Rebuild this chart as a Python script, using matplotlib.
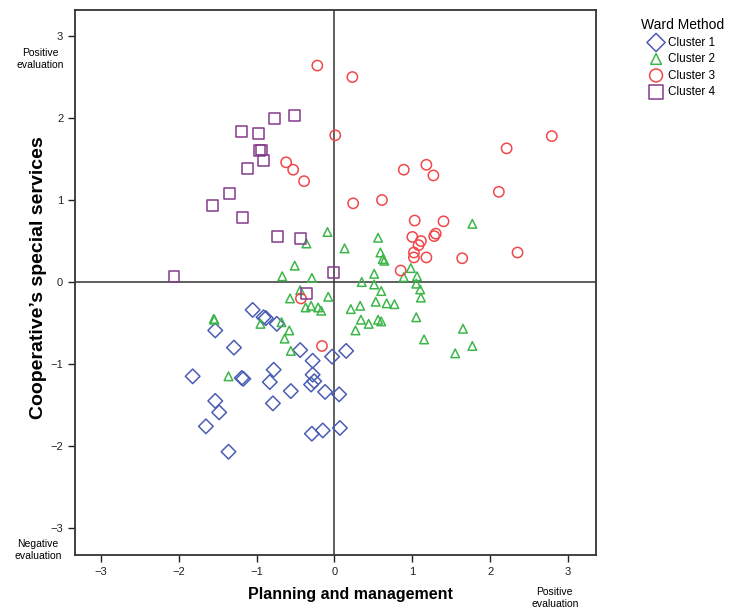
import matplotlib.pyplot as plt

plt.rcParams['font.family'] = ['Liberation Sans', 'DejaVu Sans']

# cluster scores: planning and management (x) vs cooperative's special services (y)
c1_x = [-1.05, -0.91, -0.88, -0.74, -1.53, -1.29, -0.44, -0.28, -0.03, 0.15, -1.82, -1.17, -1.19,
        -0.78, -0.83, -0.56, -0.28, -0.26, -0.30, -0.12, 0.06, -1.53, -0.79, -1.48, -1.65, -0.29,
        -0.15, 0.07, -1.36]
c1_y = [-0.34, -0.43, -0.44, -0.51, -0.59, -0.80, -0.83, -0.96, -0.91, -0.84, -1.15, -1.18, -1.17,
        -1.07, -1.22, -1.33, -1.13, -1.21, -1.25, -1.34, -1.37, -1.45, -1.48, -1.59, -1.76, -1.85,
        -1.81, -1.78, -2.07]

c2_x = [-0.09, -0.36, 0.13, 0.56, 0.59, 0.62, 0.64, -0.51, -0.67, -0.29, 0.51, 0.35, 0.51, 0.60,
        -0.44, -0.57, -0.08, -0.37, -0.30, -0.21, -0.17, 0.21, 0.33, 0.53, 0.67, 0.77, 0.34, 0.44,
        0.56, 0.60, 0.27, -1.54, -1.55, -0.95, -0.68, -0.58, -0.64, -0.56, -1.36, 1.77, 0.98, 0.89,
        1.06, 1.05, 1.10, 1.11, 1.05, 1.15, 1.65, 1.77, 1.55]
c2_y = [0.61, 0.47, 0.41, 0.54, 0.36, 0.28, 0.26, 0.20, 0.07, 0.05, 0.10, 0.00, -0.03, -0.11,
        -0.10, -0.20, -0.18, -0.31, -0.29, -0.31, -0.35, -0.33, -0.29, -0.24, -0.26, -0.27, -0.46,
        -0.51, -0.46, -0.48, -0.59, -0.46, -0.45, -0.51, -0.49, -0.59, -0.69, -0.84, -1.15, 0.71,
        0.17, 0.06, 0.07, -0.02, -0.09, -0.19, -0.43, -0.70, -0.57, -0.78, -0.87]

c3_x = [-0.22, 0.23, 0.01, 2.79, 2.21, 0.89, 1.18, 1.27, 2.11, 0.24, 0.61, 1.03, 1.40, 1.00, 1.11,
        1.08, 1.30, 1.28, 1.02, 1.02, 1.18, 1.64, 2.35, 0.85, -0.62, -0.53, -0.39, -0.43, -0.16]
c3_y = [2.64, 2.50, 1.79, 1.78, 1.63, 1.37, 1.43, 1.30, 1.10, 0.96, 1.00, 0.75, 0.74, 0.55, 0.50,
        0.45, 0.59, 0.56, 0.36, 0.30, 0.30, 0.29, 0.36, 0.14, 1.46, 1.37, 1.23, -0.20, -0.78]

c4_x = [-1.19, -0.98, -0.77, -0.51, -0.94, -0.96, -0.91, -1.12, -1.35, -1.56, -1.18, -0.73, -0.44,
        -0.01, -2.06, -0.36]
c4_y = [1.84, 1.81, 2.00, 2.03, 1.61, 1.60, 1.48, 1.38, 1.08, 0.93, 0.79, 0.55, 0.53, 0.12, 0.07,
        -0.14]

clusters = ['Cluster 1', 'Cluster 2', 'Cluster 3', 'Cluster 4']
ticks = [-3, -2, -1, 0, 1, 2, 3]
tick_labels = ['\u22123', '\u22122', '\u22121', '0', '1', '2', '3']

fig = plt.figure(figsize=(7.32, 6.14), dpi=100)
ax = fig.add_axes([0.1025, 0.096, 0.712, 0.888])

ax.axhline(0, color='#333333', lw=1.1, zorder=1)
ax.axvline(0, color='#333333', lw=1.1, zorder=1)

ax.scatter(c1_x, c1_y, marker='D', s=55, facecolors='none', edgecolors='#4b5db3', linewidths=1.1,
           label=clusters[0], zorder=3)
ax.scatter(c2_x, c2_y, marker='^', s=38, facecolors='none', edgecolors='#3cb64a', linewidths=1.1,
           label=clusters[1], zorder=3)
ax.scatter(c3_x, c3_y, marker='o', s=55, facecolors='none', edgecolors='#f0484b', linewidths=1.1,
           label=clusters[2], zorder=3)
ax.scatter(c4_x, c4_y, marker='s', s=62, facecolors='none', edgecolors='#853b8c', linewidths=1.1,
           label=clusters[3], zorder=3)

ax.set_xlim(-3.33, 3.36)
ax.set_ylim(-3.33, 3.32)
ax.set_xticks(ticks)
ax.set_yticks(ticks)
ax.set_xticklabels(tick_labels)
ax.set_yticklabels(tick_labels)
ax.tick_params(direction='out', length=5, width=1, labelsize=8, colors='#222222')
for sp in ax.spines.values():
    sp.set_color('#333333')
    sp.set_linewidth(1.3)

ax.set_xlabel('Planning and management', fontsize=11.5, fontweight='bold')
ax.set_ylabel('Cooperative\u2019s special services', fontsize=14, fontweight='bold')
ax.xaxis.set_label_coords(0.528, -0.058)
ax.yaxis.set_label_coords(-0.054, 0.509)

fig.text(0.055, 0.904, 'Positive\nevaluation', fontsize=7.5, ha='center', va='center', linespacing=1.3)
fig.text(0.052, 0.104, 'Negative\nevaluation', fontsize=7.5, ha='center', va='center', linespacing=1.3)
fig.text(0.758, 0.026, 'Positive\nevaluation', fontsize=7.5, ha='center', va='center', linespacing=1.3)

fig.legend(loc='upper left', bbox_to_anchor=(0.864, 0.984), frameon=False, title='Ward Method',
           fontsize=8.5, title_fontsize=10, markerscale=1.25, handletextpad=0.45,
           labelspacing=0.38, handlelength=1.2, borderpad=0.2)

fig.savefig('out.png', dpi=100)
